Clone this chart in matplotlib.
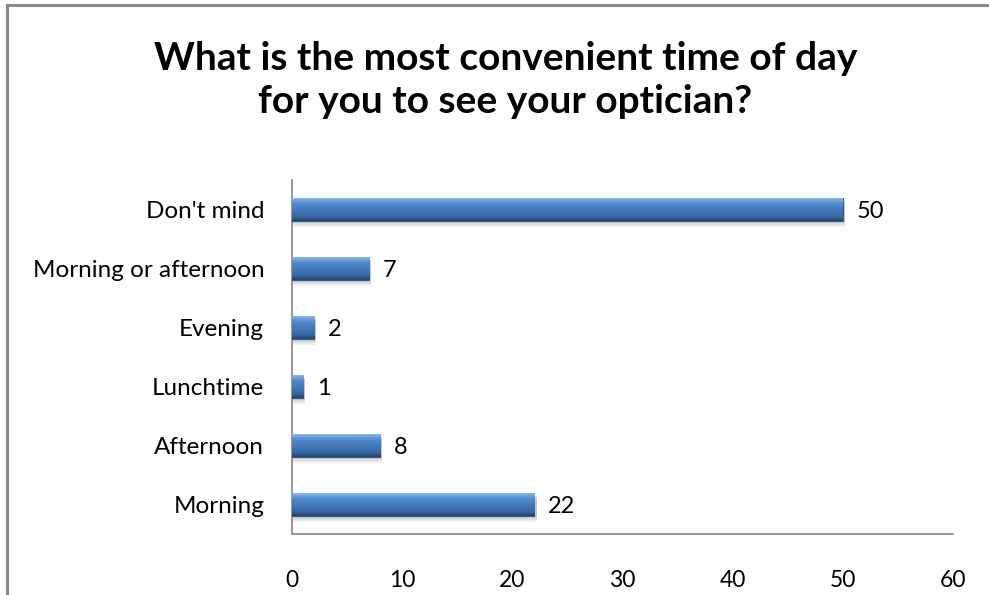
import numpy as np
import matplotlib.pyplot as plt
from matplotlib.colors import LinearSegmentedColormap
from matplotlib.lines import Line2D

categories = ["Morning", "Afternoon", "Lunchtime", "Evening",
              "Morning or afternoon", "Don't mind"]
counts = [22, 8, 1, 2, 7, 50]
xticks = [0, 10, 20, 30, 40, 50, 60]
title = "What is the most convenient time of day\nfor you to see your optician?"

plt.rcParams['font.family'] = ['Lato', 'DejaVu Sans']

fig = plt.figure(figsize=(9.89, 5.95), dpi=100)
ax = fig.add_axes([0.2952, 0.1025, 0.6684, 0.595])

# frame round the chart (only top and left edges show)
fig.add_artist(Line2D([7 / 989, 7 / 989], [0, 1 - 4.5 / 595], transform=fig.transFigure,
                      color='#8a8a8a', lw=2.2))
fig.add_artist(Line2D([7 / 989, 1], [1 - 4.5 / 595, 1 - 4.5 / 595], transform=fig.transFigure,
                      color='#8a8a8a', lw=2.2))

h = 0.38
y = np.arange(len(categories))

# soft shadow under each bar
for k, a in [(0.10, 0.10), (0.07, 0.15), (0.045, 0.2)]:
    ax.barh(y - k, np.array(counts) + 0.2, height=h, color='#6f6f6f', alpha=a,
            linewidth=0, zorder=2)

bars = ax.barh(y, counts, height=h, color='#3f73b3', edgecolor='#2a4d78',
               linewidth=0.6, zorder=3)

# bevelled look: vertical gradient clipped to each bar
cmap = LinearSegmentedColormap.from_list('bevel', [
    (0.0, '#8fb9e8'), (0.1, '#6fa3e0'), (0.25, '#4f88cc'),
    (0.55, '#4278b9'), (0.82, '#3766a2'), (1.0, '#22436c')])
grad = np.linspace(0, 1, 64).reshape(-1, 1)
for b, v, yy in zip(bars, counts, y):
    im = ax.imshow(grad, extent=(0, v, yy - h / 2, yy + h / 2), aspect='auto',
                   cmap=cmap, origin='upper', zorder=3.5, interpolation='bilinear')
    im.set_clip_path(b)

for v, yy in zip(counts, y):
    ax.annotate(str(v), (v, yy), xytext=(10, -1.5), textcoords='offset points',
                va='center', ha='left', fontsize=17, color='black')

ax.set_xlim(0, 60)
ax.set_ylim(-0.5, len(categories) - 0.5)
ax.set_xticks(xticks)
ax.set_xticklabels([str(t) for t in xticks], fontsize=16.5)
ax.set_yticks(y)
ax.set_yticklabels(categories, fontsize=17.5)
ax.tick_params(axis='x', length=0, pad=26)
ax.tick_params(axis='y', length=0, pad=20)
for s in ['top', 'right']:
    ax.spines[s].set_visible(False)
for s in ['left', 'bottom']:
    ax.spines[s].set_color('#868686')
    ax.spines[s].set_linewidth(1.2)

fig.text(0.511, 0.8655, title, ha='center', va='center', fontsize=28,
         fontweight='bold', linespacing=1.3)

fig.savefig('out.png', dpi=100)
